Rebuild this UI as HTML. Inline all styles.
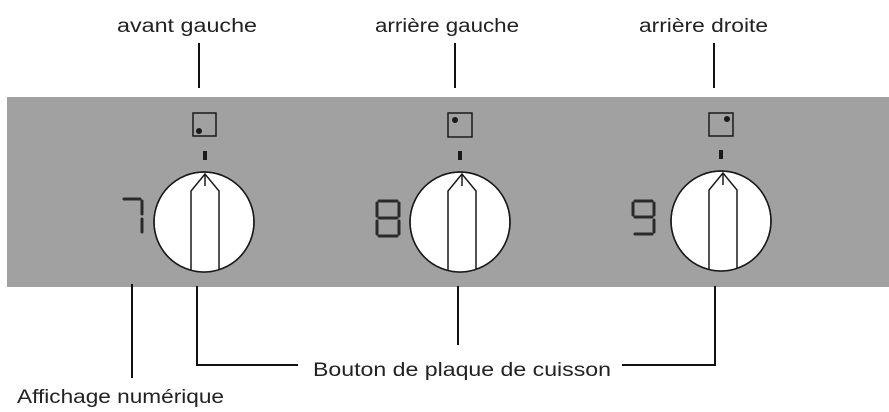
<!DOCTYPE html>
<html><head><meta charset="utf-8"><style>
html,body{margin:0;padding:0;background:#fff;}
svg{display:block;}
text{font-family:"Liberation Sans",Arial,sans-serif;font-size:19px;fill:#222;}
</style></head><body>
<svg width="889" height="412" viewBox="0 0 889 412" xmlns="http://www.w3.org/2000/svg">
<defs>
<clipPath id="c1"><circle cx="204" cy="222" r="50"/></clipPath>
<clipPath id="c2"><circle cx="460" cy="222" r="50"/></clipPath>
<clipPath id="c3"><circle cx="721" cy="221" r="50"/></clipPath>
</defs>
<rect x="7" y="97" width="882" height="190" fill="#a1a1a1"/>
<text x="117" y="32" textLength="140" lengthAdjust="spacingAndGlyphs">avant gauche</text>
<text x="375" y="32" textLength="144" lengthAdjust="spacingAndGlyphs">arrière gauche</text>
<text x="639" y="32" textLength="129" lengthAdjust="spacingAndGlyphs">arrière droite</text>
<g stroke="#111" stroke-width="2" fill="none">
<line x1="199" y1="43" x2="199" y2="88"/>
<line x1="455" y1="43" x2="455" y2="88"/>
<line x1="714" y1="43" x2="714" y2="88"/>
<line x1="132" y1="284" x2="132" y2="378"/>
<polyline points="197,286 197,365 298,365"/>
<line x1="458" y1="286" x2="458" y2="345"/>
<polyline points="622,365 715,365 715,286"/>
</g>
<text x="17" y="403" textLength="207" lengthAdjust="spacingAndGlyphs">Affichage numérique</text>
<text x="313" y="376" textLength="298" lengthAdjust="spacingAndGlyphs">Bouton de plaque de cuisson</text>

<g stroke="#1a1a1a" stroke-width="1.5">
<rect x="193" y="113" width="23" height="23" fill="none"/>
<circle cx="199" cy="131" r="3" fill="#1a1a1a" stroke="none"/>
<rect x="203" y="151" width="4" height="9" fill="#1a1a1a" stroke="none"/>
<circle cx="204" cy="222" r="50" fill="#fff"/>
<polygon clip-path="url(#c1)" points="205,174 191,191 191,285 219,285 219,191" fill="#fff"/>
<line x1="205" y1="174" x2="205" y2="186"/>
<circle cx="204" cy="222" r="50" fill="none"/>
</g>
<g stroke="#1a1a1a" stroke-width="1.5">
<rect x="448" y="113" width="24" height="24" fill="none"/>
<circle cx="455" cy="120" r="3" fill="#1a1a1a" stroke="none"/>
<rect x="458" y="151" width="4" height="9" fill="#1a1a1a" stroke="none"/>
<circle cx="460" cy="222" r="50" fill="#fff"/>
<polygon clip-path="url(#c2)" points="462,174 448,191 448,285 476,285 476,191" fill="#fff"/>
<line x1="462" y1="174" x2="462" y2="186"/>
<circle cx="460" cy="222" r="50" fill="none"/>
</g>
<g stroke="#1a1a1a" stroke-width="1.5">
<rect x="709" y="113" width="24" height="23" fill="none"/>
<circle cx="727" cy="119" r="3" fill="#1a1a1a" stroke="none"/>
<rect x="719" y="150" width="4" height="9" fill="#1a1a1a" stroke="none"/>
<circle cx="721" cy="221" r="50" fill="#fff"/>
<polygon clip-path="url(#c3)" points="723,173 709,190 709,285 737,285 737,190" fill="#fff"/>
<line x1="723" y1="173" x2="723" y2="185"/>
<circle cx="721" cy="221" r="50" fill="none"/>
</g>

<g stroke="#2a2a2a" stroke-width="3" stroke-linecap="round" fill="none">
<line x1="124" y1="199" x2="140" y2="199"/>
<line x1="142" y1="201" x2="142" y2="214"/>
<line x1="142" y1="219" x2="142" y2="232"/>
<line x1="379" y1="201" x2="397" y2="201"/>
<line x1="377" y1="203" x2="377" y2="216"/>
<line x1="399" y1="203" x2="399" y2="216"/>
<line x1="379" y1="218" x2="397" y2="218"/>
<line x1="377" y1="221" x2="377" y2="234"/>
<line x1="399" y1="221" x2="399" y2="234"/>
<line x1="379" y1="236" x2="397" y2="236"/>
<line x1="635" y1="201" x2="652" y2="201"/>
<line x1="633" y1="203" x2="633" y2="215"/>
<line x1="654" y1="203" x2="654" y2="215"/>
<line x1="635" y1="217" x2="652" y2="217"/>
<line x1="654" y1="220" x2="654" y2="232"/>
<line x1="635" y1="234" x2="652" y2="234"/>
</g>
</svg>
</body></html>
